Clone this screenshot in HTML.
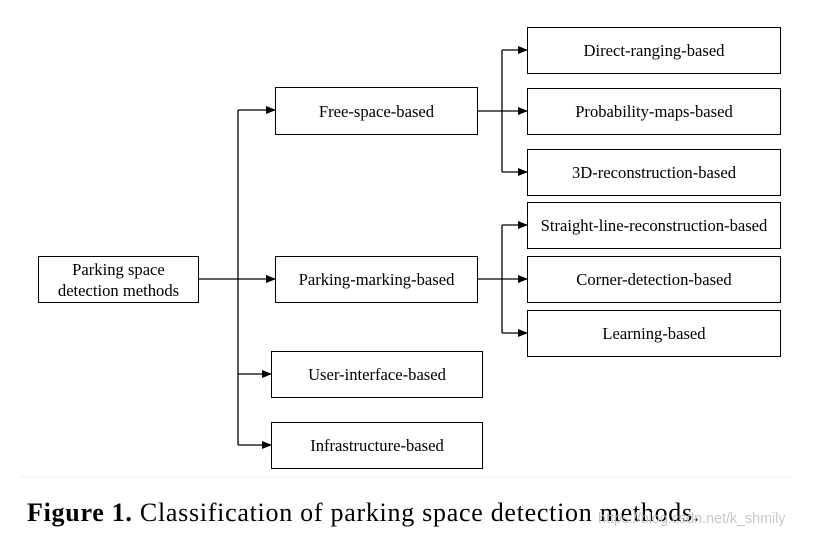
<!DOCTYPE html>
<html><head><style>
body{margin:0;background:#fff;width:815px;height:541px;overflow:hidden;position:relative;font-family:"Liberation Serif",serif}
.b{position:absolute;border:1.3px solid #000;box-sizing:border-box;display:flex;align-items:center;justify-content:center;text-align:center;font-size:16.6px;line-height:21px;color:#000;white-space:nowrap}
</style></head><body>
<svg width="815" height="541" style="position:absolute;left:0;top:0">
<defs><marker id="a" markerWidth="10" markerHeight="8" refX="9" refY="4" orient="auto" markerUnits="userSpaceOnUse"><path d="M0,0 L10,4 L0,8 z" fill="#000"/></marker></defs>
<g stroke="#000" stroke-width="1.3" fill="none">
<line x1="198" y1="279" x2="238" y2="279"/>
<line x1="238" y1="110" x2="238" y2="445"/>
<line x1="238" y1="110" x2="275" y2="110" marker-end="url(#a)"/>
<line x1="238" y1="279" x2="275" y2="279" marker-end="url(#a)"/>
<line x1="238" y1="374" x2="271" y2="374" marker-end="url(#a)"/>
<line x1="238" y1="445" x2="271" y2="445" marker-end="url(#a)"/>
<line x1="477" y1="111" x2="527" y2="111" marker-end="url(#a)"/>
<line x1="502" y1="50" x2="502" y2="172"/>
<line x1="502" y1="50" x2="527" y2="50" marker-end="url(#a)"/>
<line x1="502" y1="172" x2="527" y2="172" marker-end="url(#a)"/>
<line x1="477" y1="279" x2="527" y2="279" marker-end="url(#a)"/>
<line x1="502" y1="225" x2="502" y2="333"/>
<line x1="502" y1="225" x2="527" y2="225" marker-end="url(#a)"/>
<line x1="502" y1="333" x2="527" y2="333" marker-end="url(#a)"/>
</g>
<line x1="20" y1="477" x2="790" y2="477" stroke="#eee" stroke-width="1"/>
</svg>
<div class="b" style="left:38px;top:256px;width:161px;height:47px">Parking space<br>detection methods</div>
<div class="b" style="left:275px;top:87px;width:203px;height:48px">Free-space-based</div>
<div class="b" style="left:275px;top:256px;width:203px;height:47px">Parking-marking-based</div>
<div class="b" style="left:271px;top:351px;width:212px;height:47px">User-interface-based</div>
<div class="b" style="left:271px;top:422px;width:212px;height:47px">Infrastructure-based</div>
<div class="b" style="left:527px;top:27px;width:254px;height:47px">Direct-ranging-based</div>
<div class="b" style="left:527px;top:88px;width:254px;height:47px">Probability-maps-based</div>
<div class="b" style="left:527px;top:149px;width:254px;height:47px">3D-reconstruction-based</div>
<div class="b" style="left:527px;top:202px;width:254px;height:47px">Straight-line-reconstruction-based</div>
<div class="b" style="left:527px;top:256px;width:254px;height:47px">Corner-detection-based</div>
<div class="b" style="left:527px;top:310px;width:254px;height:47px">Learning-based</div>
<div style="position:absolute;left:27px;top:498px;font-size:26px;letter-spacing:0.72px;white-space:nowrap;color:#000"><b>Figure 1.</b> Classification of parking space detection methods.</div>
<div style="position:absolute;left:598px;top:511px;font-family:'Liberation Sans',sans-serif;font-size:14.3px;color:#c8c8c8;white-space:nowrap">https://blog.csdn.net/k_shmily</div>
</body></html>
